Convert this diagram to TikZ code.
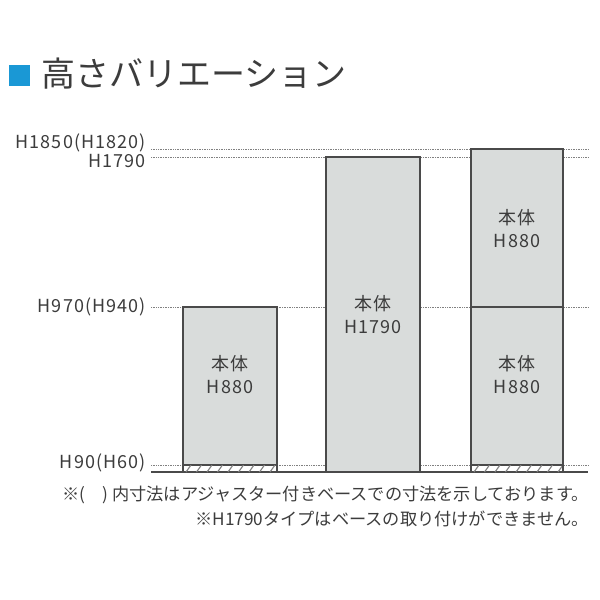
\documentclass[tikz,border=0pt]{standalone}
\usepackage{fontspec}
\setmainfont{Noto Sans CJK JP}
\newfontfamily\widefont[LetterSpace=6]{Noto Sans CJK JP}
\usepackage{tikz}
\usetikzlibrary{positioning}
\definecolor{bodyfill}{HTML}{D9DCDB}
\definecolor{edgegray}{HTML}{4A4A4A}
\definecolor{textgray}{HTML}{3C3C3C}
\definecolor{titleblue}{HTML}{1A98D5}
\tikzset{
  body/.style={draw=edgegray,fill=bodyfill,line width=1.3pt,inner sep=0pt},
  tag/.style={align=center,text=textgray,font=\widefont\fontsize{18}{23}\selectfont},
  hlabel/.style={anchor=east,text=textgray,inner sep=0pt,font=\widefont\fontsize{18}{20}\selectfont},
  dimline/.style={draw=gray,line width=0.8pt,dash pattern=on 0.8pt off 0.9pt},
  note/.style={anchor=east,text=textgray,inner sep=0pt,font=\fontsize{17.2}{20}\selectfont},
}

\begin{document}
\begin{tikzpicture}[x=1pt,y=-1pt]
\useasboundingbox (0,0) rectangle (600,600);

% title
\node (mark)[fill=titleblue,minimum size=21pt,inner sep=0pt] at (19,75){};
\node (title)[anchor=west,text=textgray,inner sep=0pt,font=\fontsize{34}{37}\selectfont] at (41,74){高さバリエーション};

% height labels
\node (l1850)[hlabel] at (146,143){H1850(H1820)};
\node (l1790)[hlabel] at (146,161){H1790};
\node (l970)[hlabel] at (146,307){H970(H940)};
\node (l90)[hlabel] at (146,463){H90(H60)};

% dotted height lines
\coordinate (a1850) at (151,149.5); \coordinate (b1850) at (588,149.5);
\coordinate (a1790) at (151,157); \coordinate (b1790) at (588,157);
\coordinate (a970) at (151,307); \coordinate (b970) at (588,307);
\coordinate (a90) at (151,465); \coordinate (b90) at (588,465);
\draw[dimline] (a1850)--(b1850);
\draw[dimline] (a1790)--(b1790);
\draw[dimline] (a970)--(b970);
\draw[dimline] (a90)--(b90);

% the three bodies
\node (box1)[body,minimum width=94pt,minimum height=158pt] at (230,386){};
\node (box2)[body,minimum width=94pt,minimum height=315pt] at (373,314.5){};
\node (box3top)[body,minimum width=92pt,minimum height=158pt] at (517,228){};
\node (box3low)[body,minimum width=92pt,minimum height=158pt] at (517,386){};

% ground
\coordinate (groundL) at (151,472); \coordinate (groundR) at (588,472);
\draw[edgegray,line width=1.3pt] (groundL)--(groundR);

% bases with hatching
\foreach \bx/\bw in {183/94,471/92}{
  \begin{scope}
  \clip (\bx,465) rectangle (\bx+\bw,472);
  \foreach \k in {0,...,9}
    \draw[gray,line width=1.1pt] (\bx+3+\k*10.5,472)--(\bx+8+\k*10.5,465);
  \end{scope}
  \draw[edgegray,line width=1.3pt] (\bx,465)--(\bx,472) (\bx+\bw,465)--(\bx+\bw,472);
}

% body texts
\node (t1)[tag] at (230,375){本体\\H880};
\node (t2)[tag] at (373,315){本体\\H1790};
\node (t3)[tag] at (517,229){本体\\H880};
\node (t4)[tag] at (517,375){本体\\H880};

% notes
\node (n1)[note] at (589,495){※(\hspace{1em}) 内寸法はアジャスター付きベースでの寸法を示しております。};
\node (n2)[note] at (589,519){※H1790タイプはベースの取り付けができません。};
\end{tikzpicture}
\end{document}
